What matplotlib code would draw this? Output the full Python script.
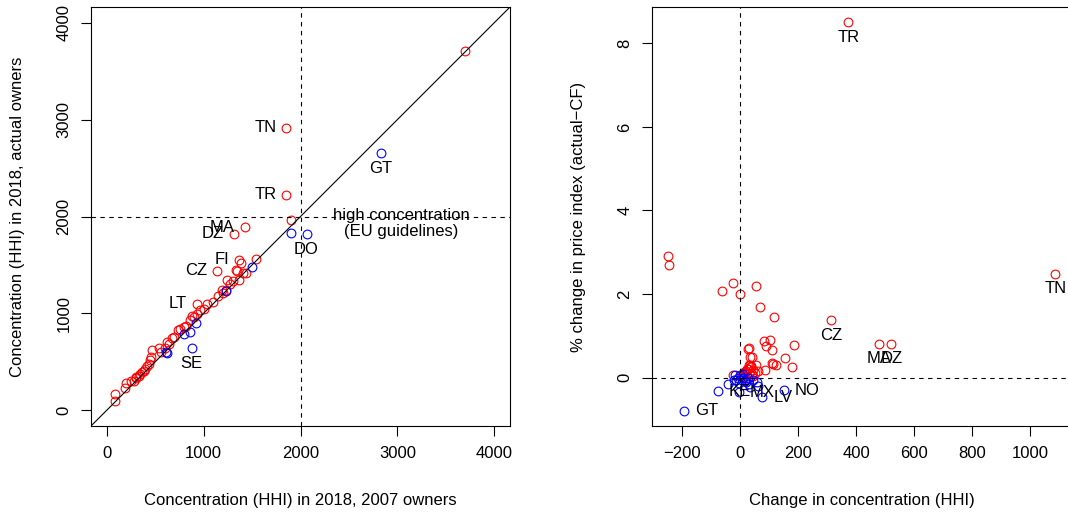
import matplotlib
matplotlib.use("Agg")
import matplotlib.pyplot as plt

plt.rcParams["font.family"] = ["Liberation Sans", "DejaVu Sans"]
plt.rcParams["font.size"] = 12

# left panel: HHI with 2007 owners vs HHI with actual owners
hhi07_up = [92, 92, 195, 205, 250, 280, 300, 308, 330, 349, 370, 383, 400, 417,
            434, 450, 458, 469, 537, 560, 600, 622, 640, 674, 700, 742, 760, 800,
            821, 862, 879, 900, 930, 964, 930, 1039, 1000, 1100, 1150, 1187, 1203,
            1231, 1238, 1272, 1306, 1333, 1347, 1368, 1408, 1443, 1135, 1368, 1385,
            1538, 1313, 1426, 1904, 1853, 1853, 3692]
hhiact_up = [172, 96, 234, 282, 300, 309, 330, 344, 360, 378, 400, 412, 430, 454,
             481, 520, 550, 626, 646, 600, 640, 704, 690, 749, 760, 825, 840, 860,
             876, 928, 979, 960, 997, 1031, 1100, 1093, 1050, 1120, 1180, 1244, 1210,
             1244, 1347, 1306, 1340, 1450, 1436, 1347, 1415, 1415, 1443, 1553, 1519,
             1564, 1821, 1890, 1959, 2224, 2914, 3711]
hhi07_dn = [2827, 2062, 1901, 1504, 1237, 923, 862, 803, 622, 610, 879]
hhiact_dn = [2653, 1821, 1828, 1480, 1230, 900, 807, 790, 595, 600, 646]

left_labels = ["TN", "TR", "MA", "DZ", "CZ", "FI", "LT"]
left_lab_x = [1853, 1853, 1426, 1313, 1135, 1368, 930]
left_lab_y = [2914, 2224, 1890, 1821, 1443, 1553, 1100]
below_labels = ["GT", "DO", "SE"]
below_lab_x = [2827, 2062, 879]
below_lab_y = [2653, 1821, 646]

# right panel: change in HHI vs change in price index
dhhi_up = [-251, -247, -63, -26, -3, 53, 69, 115, 313, 80, 103, 89, 110, 184, 25,
           34, 152, 108, 124, 179, 86, 55, -27, 372, 1086, 479, 520, 29, 40, 114,
           34, 23, 11, 10, 15, 20, 25, 30, 35, 40, 45, 50, 28, 38, 18, 5, 60, 42, 12]
dprice_up = [2.91, 2.69, 2.07, 2.26, 2.0, 2.2, 1.68, 1.45, 1.38, 0.87, 0.91, 0.76,
             0.67, 0.79, 0.69, 0.50, 0.46, 0.34, 0.31, 0.25, 0.19, 0.31, 0.06, 8.5,
             2.49, 0.81, 0.81, 0.71, 0.50, 0.33, 0.29, 0.21, 0.13, 0.05, 0.1, 0.15,
             0.2, 0.12, 0.25, 0.08, 0.18, 0.1, 0.3, 0.28, 0.0, 0.02, 0.15, 0.04, 0.12]
dhhi_dn = [-193, -78, -42, -23, -6, 34, 57, 75, 149, 45, 60, -20, -10, 0, 5, 10,
           15, -5, 20, 25, -15, 8, 30]
dprice_dn = [-0.79, -0.33, -0.15, -0.07, -0.35, -0.23, -0.11, -0.47, -0.31, -0.05,
             -0.2, 0.05, -0.02, 0.05, -0.05, 0.0, -0.08, -0.12, -0.1, -0.02, -0.05,
             0.08, -0.15]

under_labels = ["TR", "TN", "CZ", "MA", "DZ"]
under_x = [372, 1086, 313, 479, 520]
under_y = [8.5, 2.49, 1.38, 0.81, 0.81]
right_labels = ["GT", "KE", "MX", "LV", "NO"]
right_x = [-193, -78, -6, 75, 149]
right_y = [-0.79, -0.33, -0.35, -0.47, -0.31]

W, H = 1068, 516
fig = plt.figure(figsize=(W / 100, H / 100), dpi=100)
ax1 = fig.add_axes([91 / W, 1 - 426 / H, 419 / W, 419 / H])
ax2 = fig.add_axes([652 / W, 1 - 426 / H, 419 / W, 419 / H])

mk = dict(marker="o", ls="none", ms=6.3, mfc="none", mew=0.8)


def r_style(ax):
    for s in ax.spines.values():
        s.set_linewidth(0.8)
    ax.tick_params(direction="out", length=7.2, width=0.8, pad=7, labelsize=12)
    for lab in ax.get_yticklabels():
        lab.set_rotation(90)
        lab.set_va("center")


# ---- left panel ----
ax1.plot(hhi07_up, hhiact_up, color="red", **mk)
ax1.plot(hhi07_dn, hhiact_dn, color="blue", **mk)
ax1.set_xlim(-160, 4160)
ax1.set_ylim(-160, 4160)
ax1.plot([-160, 4160], [-160, 4160], color="black", lw=0.8)
ax1.axvline(2000, color="black", ls=(0, (4, 4)), lw=0.8)
ax1.axhline(2000, color="black", ls=(0, (4, 4)), lw=0.8)
ax1.text(3040, 1930, "high concentration\n(EU guidelines)", ha="center",
         va="center", linespacing=1.1)
for t, x, y in zip(left_labels, left_lab_x, left_lab_y):
    ax1.annotate(t, (x, y), xytext=(-7, 0), textcoords="offset points",
                 ha="right", va="center")
for t, x, y in zip(below_labels, below_lab_x, below_lab_y):
    ax1.annotate(t, (x, y), xytext=(0, -11), textcoords="offset points",
                 ha="center", va="center")
ax1.set_xticks([0, 1000, 2000, 3000, 4000])
ax1.set_yticks([0, 1000, 2000, 3000, 4000])
r_style(ax1)
ax1.set_xlabel("Concentration (HHI) in 2018, 2007 owners")
ax1.set_ylabel("Concentration (HHI) in 2018, actual owners")

# ---- right panel ----
ax2.plot(dhhi_up, dprice_up, color="red", **mk)
ax2.plot(dhhi_dn, dprice_dn, color="blue", **mk)
ax2.set_xlim(-305, 1140)
ax2.set_ylim(-1.16, 8.87)
ax2.axvline(0, color="black", ls=(0, (4, 4)), lw=0.8)
ax2.axhline(0, color="black", ls=(0, (4, 4)), lw=0.8)
for t, x, y in zip(under_labels, under_x, under_y):
    ax2.annotate(t, (x, y), xytext=(0, -11), textcoords="offset points",
                 ha="center", va="center")
for t, x, y in zip(right_labels, right_x, right_y):
    ax2.annotate(t, (x, y), xytext=(8, 0), textcoords="offset points",
                 ha="left", va="center")
ax2.set_xticks([-200, 0, 200, 400, 600, 800, 1000])
ax2.set_yticks([0, 2, 4, 6, 8])
r_style(ax2)
# the frame's right edge falls just past the figure border
ax2.spines["right"].set_visible(False)
ax2.set_xlabel("Change in concentration (HHI)")
ax2.set_ylabel("% change in price index (actual\u2212CF)")

for ax in (ax1, ax2):
    ax.xaxis.set_label_coords(0.5, -0.177)
    ax.xaxis.label.set_va("center")
    ax.yaxis.set_label_coords(-0.175, 0.5)
    ax.yaxis.label.set_va("center")

fig.savefig("out.png", dpi=100)
